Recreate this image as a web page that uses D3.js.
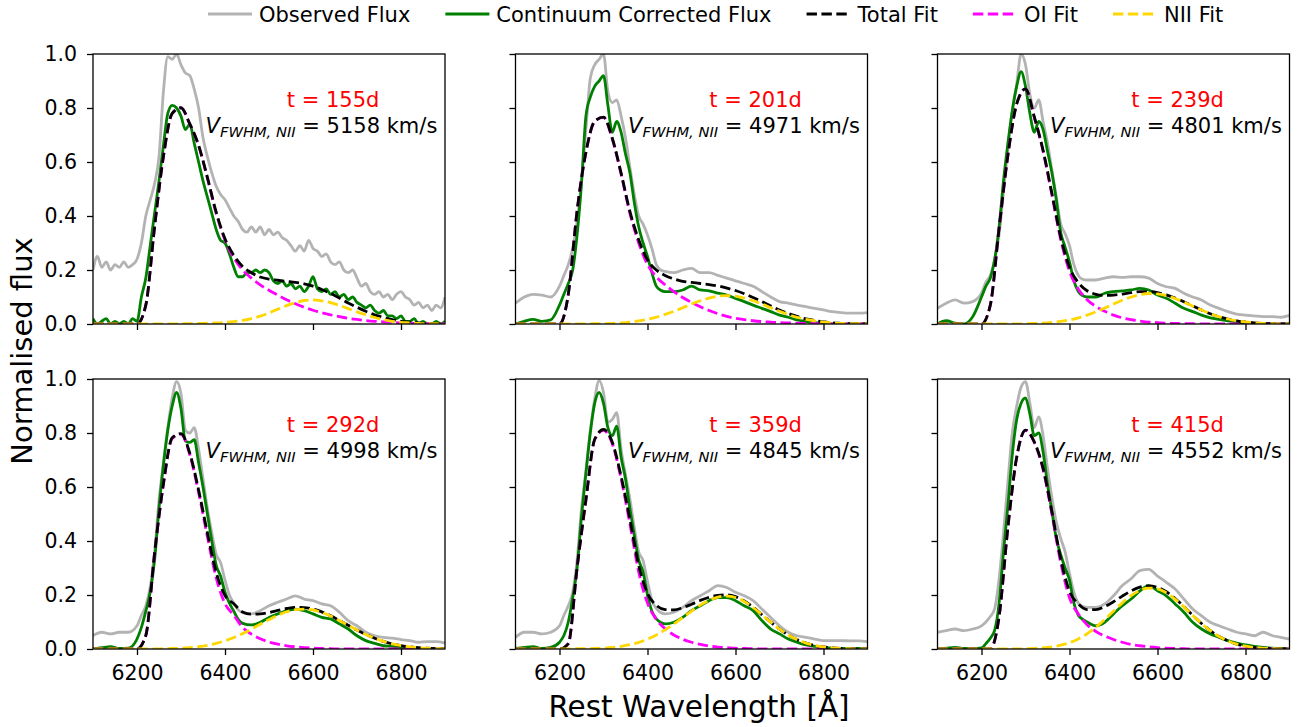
<!DOCTYPE html>
<html>
<head>
<meta charset="utf-8">
<script src="https://cdn.jsdelivr.net/npm/d3@7"></script>
<style>
  body { margin: 0; background: #fff; }
  svg { display: block; }
  text { font-family: "DejaVu Sans", sans-serif; white-space: pre; }
</style>
</head>
<body>
<svg id="chart" width="1299" height="727"></svg>
<script>
// ---- wavelength grids (Å) ----
const fitGrid = d3.range(6100, 6901, 20);          // model fits
const fineGrid = d3.range(6100, 6901, 10);         // day-155 spectrum
const mixedGrid = [...d3.range(6100, 6201, 20),    // later spectra: denser across the OI peak
                   ...d3.range(6210, 6441, 10),
                   ...d3.range(6460, 6901, 20)];

// ---- epochs and fitted NII widths ----
const epochs = ["155d", "201d", "239d", "292d", "359d", "415d"];
const fwhmNII = [5158, 4971, 4801, 4998, 4845, 4552];

// ---- observed flux ----
const obs155 = [0.20,0.25,0.21,0.23,0.20,0.22,0.21,0.23,0.21,0.22,0.24,
  0.30,0.40,0.46,0.52,0.62,0.86,0.99,0.98,1.00,0.96,
  0.93,0.92,0.87,0.80,0.69,0.62,0.56,0.51,0.48,0.46,
  0.43,0.40,0.38,0.35,0.34,0.36,0.34,0.36,0.33,0.35,
  0.33,0.34,0.32,0.31,0.29,0.27,0.29,0.27,0.31,0.28,
  0.27,0.25,0.26,0.23,0.22,0.23,0.20,0.19,0.20,0.17,
  0.14,0.15,0.12,0.11,0.12,0.10,0.11,0.09,0.11,0.12,
  0.10,0.09,0.07,0.08,0.06,0.07,0.05,0.07,0.06,0.10];
const obs201 = [0.077,0.10,0.11,0.107,0.10,0.14,
  0.18,0.22,0.28,0.38,0.53,0.72,0.91,0.96,0.98,1.00,0.86,0.82,0.83,0.77,0.69,0.58,0.48,0.40,0.37,0.33,0.28,0.22,0.20,0.195,
  0.19,0.20,0.206,0.19,0.19,0.18,0.17,0.16,0.15,0.14,0.12,0.10,0.083,0.077,0.07,0.064,0.058,0.052,0.046,0.042,0.04,0.04,0.042];
const obs239 = [0.058,0.077,0.089,0.077,0.083,0.114,
  0.155,0.18,0.24,0.33,0.49,0.65,0.79,0.89,1.00,0.96,0.85,0.80,0.83,0.75,0.67,0.57,0.47,0.37,0.335,0.29,0.22,0.18,0.165,0.163,
  0.163,0.17,0.175,0.173,0.175,0.175,0.17,0.15,0.138,0.132,0.114,0.10,0.089,0.07,0.058,0.046,0.037,0.033,0.03,0.027,0.027,0.025,0.032];
const obs292 = [0.05,0.062,0.056,0.062,0.062,0.086,
  0.125,0.16,0.23,0.36,0.55,0.69,0.82,0.93,0.99,0.945,0.81,0.80,0.82,0.74,0.63,0.52,0.43,0.35,0.32,0.255,0.20,0.17,0.145,0.135,
  0.13,0.142,0.16,0.173,0.185,0.197,0.185,0.179,0.167,0.16,0.136,0.105,0.086,0.062,0.049,0.043,0.04,0.035,0.031,0.025,0.027,0.027,0.022];
const obs359 = [0.043,0.062,0.062,0.056,0.062,0.086,
  0.125,0.16,0.21,0.33,0.52,0.66,0.81,0.926,0.994,0.95,0.84,0.85,0.875,0.74,0.645,0.556,0.45,0.36,0.327,0.25,0.18,0.15,0.135,0.13,
  0.136,0.154,0.179,0.197,0.216,0.235,0.228,0.21,0.197,0.179,0.148,0.117,0.086,0.062,0.049,0.043,0.037,0.031,0.031,0.031,0.03,0.03,0.027];
const obs415 = [0.062,0.068,0.074,0.068,0.074,0.086,
  0.10,0.12,0.15,0.26,0.43,0.62,0.80,0.90,0.97,0.99,0.91,0.82,0.86,0.79,0.67,0.56,0.47,0.41,0.36,0.28,0.21,0.17,0.158,0.154,
  0.154,0.167,0.197,0.235,0.26,0.29,0.295,0.27,0.247,0.222,0.185,0.148,0.123,0.099,0.086,0.074,0.062,0.056,0.049,0.062,0.05,0.043,0.037];

// ---- continuum-corrected flux ----
const corr155 = [0.02,0.00,0.01,0.02,0.00,0.01,0.00,0.01,0.00,0.02,0.01,
  0.10,0.17,0.29,0.41,0.53,0.66,0.78,0.81,0.80,0.77,
  0.72,0.74,0.67,0.60,0.53,0.47,0.41,0.35,0.31,0.30,
  0.26,0.21,0.175,0.175,0.19,0.19,0.20,0.19,0.20,0.19,
  0.16,0.15,0.16,0.14,0.15,0.13,0.14,0.12,0.14,0.175,
  0.13,0.12,0.13,0.11,0.12,0.10,0.11,0.09,0.10,0.08,
  0.07,0.06,0.07,0.05,0.04,0.05,0.03,0.03,0.02,0.03,
  0.01,0.01,0.02,0.00,0.01,0.00,0.00,0.01,0.00,0.01];
const corr201 = [0.0,0.01,0.017,0.01,0.015,0.07,
  0.11,0.15,0.20,0.33,0.52,0.77,0.84,0.88,0.90,0.92,0.81,0.71,0.75,0.71,0.63,0.56,0.45,0.36,0.30,0.25,0.19,0.14,0.125,0.12,
  0.12,0.126,0.14,0.126,0.123,0.114,0.107,0.095,0.083,0.07,0.058,0.046,0.033,0.025,0.015,0.009,0.005,0.002,0,0,0,0,0];
const corr239 = [0.0,0.012,0.003,0.0,0.027,0.10,
  0.14,0.17,0.24,0.36,0.53,0.67,0.79,0.88,0.935,0.88,0.78,0.71,0.75,0.72,0.64,0.56,0.46,0.34,0.285,0.23,0.16,0.12,0.105,0.10,
  0.10,0.114,0.12,0.123,0.126,0.132,0.126,0.107,0.095,0.077,0.058,0.046,0.033,0.023,0.017,0.012,0.007,0.003,0,0,0,0,0];
const corr292 = [0.0,0.005,0.009,0.002,0.003,0.037,
  0.08,0.14,0.21,0.33,0.52,0.68,0.81,0.90,0.95,0.89,0.77,0.765,0.775,0.69,0.60,0.50,0.40,0.31,0.27,0.21,0.17,0.14,0.11,0.095,
  0.089,0.099,0.117,0.13,0.142,0.148,0.142,0.13,0.117,0.111,0.093,0.074,0.049,0.031,0.021,0.012,0.01,0.006,0.003,0.002,0,0,0];
const corr359 = [0.002,0.006,0.009,0.002,0.006,0.025,
  0.05,0.10,0.19,0.30,0.49,0.65,0.80,0.91,0.95,0.91,0.82,0.79,0.825,0.71,0.63,0.52,0.42,0.33,0.285,0.20,0.14,0.112,0.098,0.093,
  0.099,0.117,0.142,0.16,0.179,0.19,0.19,0.179,0.16,0.142,0.105,0.074,0.056,0.037,0.025,0.015,0.01,0.006,0.003,0.002,0.002,0.002,0.002];
const corr415 = [0.0,0.003,0.006,0.002,0.002,0.004,
  0.02,0.04,0.07,0.17,0.36,0.53,0.72,0.85,0.91,0.93,0.87,0.79,0.80,0.73,0.61,0.51,0.41,0.35,0.30,0.255,0.17,0.125,0.11,0.10,
  0.086,0.099,0.13,0.16,0.185,0.215,0.235,0.216,0.197,0.167,0.136,0.099,0.074,0.056,0.043,0.031,0.022,0.015,0.01,0.006,0.003,0.002,0.002];

// ---- total fit ----
const total155 = [0,0,0,0,0,0, 0.07,0.36,0.62,0.78,0.801,0.741,0.662,0.543,0.414,0.316,
  0.254,0.213,0.19,0.174,0.166,0.162,0.158,0.154,0.149,0.14,
  0.128,0.113,0.096,0.078,0.062,0.047,0.034,0.024,0.016,0.01, 0.007,0.004,0.002,0.002,0];
const total201 = [0,0,0,0,0,0, 0.11,0.42,0.635,0.751,0.766,0.688,0.559,0.417,0.312,0.237,
  0.20,0.18,0.167,0.158,0.154,0.15,0.146,0.141,0.133,0.124,
  0.112,0.098,0.083,0.067,0.052,0.039,0.028,0.019,0.013,0.008, 0.004,0.0025,0.0014,0.001,0];
const total239 = [0,0,0,0,0,0, 0.07,0.355,0.625,0.815,0.871,0.767,0.643,0.484,0.322,0.21,
  0.153,0.123,0.11,0.106,0.107,0.111,0.116,0.12,0.12,0.1165,
  0.108,0.0965,0.0825,0.067,0.052,0.038,0.027,0.0185,0.012,0.0074, 0.0043,0.002,0.001,0.0005,0];
const total292 = [0,0,0,0,0,0, 0.05,0.3555,0.611,0.782,0.798,0.725,0.589,0.43,0.284,0.198,
  0.1675,0.137,0.129,0.13,0.135,0.143,0.15,0.154,0.153,0.1475,
  0.1375,0.123,0.1057,0.088,0.07,0.054,0.04,0.028,0.019,0.0126, 0.008,0.0048,0.0028,0.0016,0.0008];
const total359 = [0,0,0,0,0,0, 0.02,0.301,0.552,0.777,0.813,0.766,0.64,0.48,0.31,0.206,
  0.162,0.146,0.145,0.153,0.166,0.18,0.191,0.199,0.201,0.194,
  0.178,0.155,0.127,0.0997,0.074,0.052,0.0347,0.0219,0.0131,0.0074, 0.004,0.002,0.001,0.0005,0];
const total415 = [0,0,0,0,0,0,0, 0.12,0.45,0.71,0.811,0.767,0.669,0.508,0.334,0.214,
  0.167,0.146,0.146,0.157,0.175,0.196,0.215,0.229,0.234,0.228,
  0.212,0.187,0.157,0.1245,0.0944,0.0679,0.0463,0.0299,0.0183,0.0106, 0.0058,0.003,0.0015,0.0007,0.0003];

// ---- OI component ----
const oi155 = [0,0,0,0,0,0, 0.07,0.36,0.62,0.78,0.80,0.74,0.66,0.54,0.41,0.31,
  0.245,0.20,0.17,0.145,0.125,0.107,0.09,0.075,0.062,0.051,
  0.042,0.034,0.027,0.021,0.017,0.013,0.01,0.008,0.006,0.004, 0.003,0.002,0.001,0.001,0];
const oi201 = [0,0,0,0,0,0, 0.11,0.42,0.635,0.75,0.765,0.685,0.555,0.41,0.30,0.22,
  0.175,0.145,0.12,0.098,0.08,0.064,0.05,0.038,0.028,0.021,
  0.016,0.012,0.009,0.007,0.005,0.004,0.003,0.002,0.0015,0.001, 0,0,0,0,0];
const oi239 = [0,0,0,0,0,0, 0.07,0.355,0.625,0.815,0.87,0.765,0.64,0.478,0.313,0.195,
  0.13,0.09,0.065,0.047,0.033,0.023,0.016,0.011,0.007,0.005,
  0.003,0.002,0.0015,0.001,0,0,0,0,0,0, 0,0,0,0,0];
const oi292 = [0,0,0,0,0,0, 0.05,0.355,0.61,0.78,0.795,0.72,0.58,0.416,0.263,0.168,
  0.125,0.08,0.055,0.038,0.026,0.018,0.012,0.008,0.005,0.003,
  0.002,0.001,0,0,0,0,0,0,0,0, 0,0,0,0,0];
const oi359 = [0,0,0,0,0,0, 0.02,0.30,0.55,0.775,0.81,0.76,0.63,0.464,0.285,0.17,
  0.11,0.075,0.052,0.036,0.025,0.017,0.011,0.007,0.005,0.003,
  0.002,0.001,0,0,0,0,0,0,0,0, 0,0,0,0,0];
const oi415 = [0,0,0,0,0,0,0, 0.12,0.45,0.71,0.81,0.765,0.665,0.50,0.32,0.19,
  0.13,0.09,0.065,0.048,0.035,0.025,0.017,0.012,0.008,0.005,
  0.003,0.002,0.001,0,0,0,0,0,0,0, 0,0,0,0,0];

// ---- NII component ----
const nii155 = [0,0,0,0,0,0,0,0,0,0, 0.001,0.001,0.002,0.003,0.004, 0.006,
  0.009,0.013,0.02,0.029,0.041,0.055,0.068,0.079,0.087,0.089,
  0.086,0.079,0.069,0.057,0.045,0.034,0.024,0.016,0.01,0.006, 0.004,0.002,0.001,0.001,0];
const nii201 = [0,0,0,0,0,0,0,0,0.0005,0.001, 0.0014,0.0025,0.0043,0.0072,0.0115, 0.0174,
  0.0254,0.0354,0.047,0.06,0.074,0.086,0.096,0.103,0.105,0.103,
  0.096,0.086,0.074,0.06,0.047,0.035,0.025,0.017,0.0115,0.007, 0.004,0.0025,0.0014,0.001,0];
const nii239 = [0,0,0,0,0,0,0,0,0,0.0005, 0.001,0.002,0.003,0.0057,0.0094, 0.015,
  0.0227,0.0326,0.045,0.059,0.074,0.088,0.10,0.109,0.113,0.1115,
  0.105,0.0945,0.081,0.066,0.052,0.038,0.027,0.0185,0.012,0.0074, 0.0043,0.002,0.001,0.0005,0];
const nii292 = [0,0,0,0,0,0,0,0.0005,0.001,0.002, 0.003,0.0053,0.0087,0.0137,0.0208, 0.0304,
  0.0425,0.057,0.0738,0.0916,0.109,0.125,0.138,0.1456,0.148,0.1445,
  0.1355,0.122,0.1057,0.088,0.07,0.054,0.04,0.028,0.019,0.0126, 0.008,0.0048,0.0028,0.0016,0.0008];
const nii359 = [0,0,0,0,0,0,0,0.001,0.0015,0.002, 0.0033,0.0058,0.0098,0.0158,0.0245, 0.0363,
  0.0517,0.0707,0.0926,0.1165,0.1405,0.1625,0.18,0.192,0.196,0.1907,
  0.176,0.1537,0.127,0.0997,0.074,0.052,0.0347,0.0219,0.0131,0.0074, 0.004,0.002,0.001,0.0005,0];
const nii415 = [0,0,0,0,0,0,0,0,0.0003,0.0006, 0.001,0.0022,0.0043,0.008,0.014, 0.0236,
  0.0374,0.0564,0.0806,0.109,0.14,0.171,0.198,0.217,0.2256,0.2227,
  0.2085,0.185,0.156,0.1245,0.0944,0.0679,0.0463,0.0299,0.0183,0.0106, 0.0058,0.003,0.0015,0.0007,0.0003];

// ---- axis ticks ----
const xTicks = [6200, 6400, 6600, 6800];
const yTicks = [0, 0.2, 0.4, 0.6, 0.8, 1.0];

// one entry per subplot
const panels = [
  { epoch: epochs[0], fwhm: fwhmNII[0], specGrid: fineGrid,  obs: obs155, corr: corr155, total: total155, oi: oi155, nii: nii155 },
  { epoch: epochs[1], fwhm: fwhmNII[1], specGrid: mixedGrid, obs: obs201, corr: corr201, total: total201, oi: oi201, nii: nii201 },
  { epoch: epochs[2], fwhm: fwhmNII[2], specGrid: mixedGrid, obs: obs239, corr: corr239, total: total239, oi: oi239, nii: nii239 },
  { epoch: epochs[3], fwhm: fwhmNII[3], specGrid: mixedGrid, obs: obs292, corr: corr292, total: total292, oi: oi292, nii: nii292 },
  { epoch: epochs[4], fwhm: fwhmNII[4], specGrid: mixedGrid, obs: obs359, corr: corr359, total: total359, oi: oi359, nii: nii359 },
  { epoch: epochs[5], fwhm: fwhmNII[5], specGrid: mixedGrid, obs: obs415, corr: corr415, total: total415, oi: oi415, nii: nii415 }
];

// ---- layout ----
const svg = d3.select("#chart");
const W = 352, H = 270;
const colLeft = [93, 515.5, 937.5];
const rowTop = [54, 379];
const LW = 2.8;
const DASH = "10.4,4.5";

const style = {
  obs:   { color: "#b3b3b3", dash: null },
  corr:  { color: "#008000", dash: null },
  total: { color: "#000000", dash: DASH },
  oi:    { color: "#ff00ff", dash: DASH },
  nii:   { color: "#ffd700", dash: DASH }
};

const x = d3.scaleLinear().domain([6100, 6900]).range([0, W]);
const y = d3.scaleLinear().domain([0, 1]).range([H, 0]);

const lineOn = grid => d3.line()
  .x((d, i) => x(grid[i]))
  .y(d => y(d))
  .curve(d3.curveMonotoneX);

panels.forEach((p, k) => {
  const row = Math.floor(k / 3), col = k % 3;
  const g = svg.append("g").attr("transform", `translate(${colLeft[col]},${rowTop[row]})`);

  const clipId = `clip-${k}`;
  g.append("clipPath").attr("id", clipId)
    .append("rect").attr("width", W).attr("height", H);

  const plot = g.append("g").attr("clip-path", `url(#${clipId})`);
  // stacking: spectra underneath, OI beneath the total, NII on top
  const series = [
    ["obs", p.obs, p.specGrid],
    ["corr", p.corr, p.specGrid],
    ["oi", p.oi, fitGrid],
    ["total", p.total, fitGrid],
    ["nii", p.nii, fitGrid]
  ];
  series.forEach(([key, vals, grid]) => {
    plot.append("path")
      .datum(vals)
      .attr("d", lineOn(grid))
      .attr("fill", "none")
      .attr("stroke", style[key].color)
      .attr("stroke-width", LW)
      .attr("stroke-linejoin", "round")
      .attr("stroke-dasharray", style[key].dash);
  });

  // axes
  const xAxis = d3.axisBottom(x).tickValues(xTicks).tickSize(6).tickPadding(10).tickSizeOuter(0)
    .tickFormat(row === 1 ? d3.format("d") : () => "");
  const yAxis = d3.axisLeft(y).tickValues(yTicks).tickSize(6).tickPadding(10).tickSizeOuter(0)
    .tickFormat(col === 0 ? d3.format(".1f") : () => "");

  const gx = g.append("g").attr("transform", `translate(0,${H})`).call(xAxis);
  const gy = g.append("g").call(yAxis);
  [gx, gy].forEach(a => {
    a.select(".domain").remove();
    a.selectAll(".tick line").attr("stroke", "#000").attr("stroke-width", 1.3);
    a.selectAll(".tick text").attr("fill", "#000")
      .style("font-family", '"DejaVu Sans", sans-serif').style("font-size", "20.5px");
  });

  // frame
  g.append("rect").attr("width", W).attr("height", H)
    .attr("fill", "none").attr("stroke", "#000").attr("stroke-width", 1.3);

  // annotations
  g.append("text")
    .attr("x", 0.682 * W).attr("y", 53)
    .attr("text-anchor", "middle").attr("fill", "#ff0000").attr("font-size", 21)
    .text(`t = ${p.epoch}`);
  const v = g.append("text")
    .attr("x", 0.649 * W).attr("y", 79)
    .attr("text-anchor", "middle").attr("fill", "#000").attr("font-size", 21);
  v.append("tspan").attr("font-style", "italic").text("V");
  v.append("tspan").attr("font-style", "italic").attr("font-size", 14.7).attr("dy", 4).text("FWHM, NII");
  v.append("tspan").attr("dy", -4).text(` = ${p.fwhm} km/s`);
});

// ---- shared axis labels ----
svg.append("text")
  .attr("x", 699).attr("y", 717)
  .attr("text-anchor", "middle").attr("font-size", 29.5).attr("fill", "#000")
  .text("Rest Wavelength [Å]");
svg.append("text")
  .attr("transform", "translate(32,351) rotate(-90)")
  .attr("text-anchor", "middle").attr("font-size", 29).attr("fill", "#000")
  .text("Normalised flux");

// ---- legend ----
const legendItems = [
  { key: "obs", label: "Observed Flux" },
  { key: "corr", label: "Continuum Corrected Flux" },
  { key: "total", label: "Total Fit" },
  { key: "oi", label: "OI Fit" },
  { key: "nii", label: "NII Fit" }
];
const legend = svg.append("g");
let lx = 208;
legendItems.forEach(item => {
  legend.append("line")
    .attr("x1", lx).attr("x2", lx + 44).attr("y1", 14).attr("y2", 14)
    .attr("stroke", style[item.key].color).attr("stroke-width", LW)
    .attr("stroke-dasharray", style[item.key].dash);
  const t = legend.append("text")
    .attr("x", lx + 51).attr("y", 21.5)
    .attr("font-size", 21).attr("fill", "#000")
    .text(item.label);
  lx += 51 + t.node().getComputedTextLength() + 35;
});
</script>
</body>
</html>
